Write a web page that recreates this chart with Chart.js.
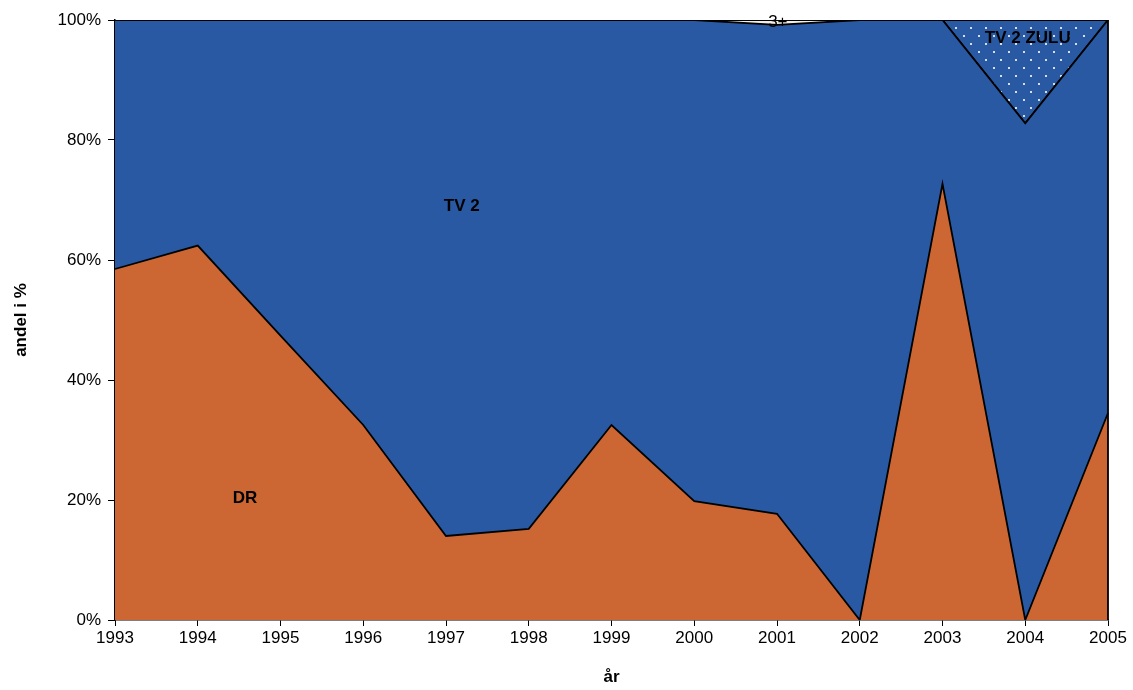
<!DOCTYPE html>
<html>
<head>
<meta charset="utf-8">
<script src="https://cdn.jsdelivr.net/npm/chart.js@4.4.1/dist/chart.umd.min.js"></script>
<style>
  body { margin: 0; background: #fff; }
  #wrap { width: 1133px; height: 690px; }
</style>
</head>
<body>
<div id="wrap"><canvas id="resultPlot" width="1133" height="690"></canvas></div>
<script>
// data (share in %)
var years = ['1993','1994','1995','1996','1997','1998','1999','2000','2001','2002','2003','2004','2005'];
var drShare   = [58.5, 62.4, 47.4, 32.5, 14.0, 15.2, 32.5, 19.8, 17.7, 0, 72.7, 0, 34.5];
var plusShare = [0, 0, 0, 0, 0, 0, 0, 0, 0.8, 0, 0, 0, 0];
var zuluShare = [0, 0, 0, 0, 0, 0, 0, 0, 0, 0, 0, 17.2, 0];
var tv2Share  = [];
for (let i = 0; i < years.length; i++) {
    tv2Share.push(100 - drShare[i] - plusShare[i] - zuluShare[i]);
}
var yTicks = [0, 20, 40, 60, 80, 100];

// series labels inside the plot
var seriesLabels = ['DR', 'TV 2', '3+', 'TV 2 ZULU'];
var labelYearPos = [1.57, 4.19, 8.01, 11.03];
var labelValuePos = [20.3, 69, 99.6, 97.0];

/**
 * dotted fill for TV 2 ZULU
 */
function makeDots(){
    let c = document.createElement('canvas');
    c.width = 15; c.height = 16;
    let ctx = c.getContext('2d');
    ctx.fillStyle = '#2959a2';
    ctx.fillRect(0, 0, 15, 16);
    ctx.fillStyle = '#d5deee';
    ctx.fillRect(3, 3, 2, 2);
    ctx.fillRect(10, 11, 2, 2);
    return ctx.createPattern(c, 'repeat');
}

var labelPlugin = {
    id: 'seriesLabels',
    afterDatasetsDraw: function(chart){
        let ctx = chart.ctx;
        let xs = chart.scales.x, ys = chart.scales.y;
        let step = xs.getPixelForValue(1) - xs.getPixelForValue(0);
        ctx.save();
        // outline on the right edge of the stack
        let xr = xs.getPixelForValue(years.length - 1);
        ctx.strokeStyle = '#000';
        ctx.lineWidth = 1.8;
        ctx.beginPath();
        ctx.moveTo(xr, ys.getPixelForValue(0));
        ctx.lineTo(xr, ys.getPixelForValue(100));
        ctx.stroke();

        ctx.fillStyle = '#000';
        ctx.textAlign = 'center';
        ctx.textBaseline = 'middle';
        for (let i = 0; i < seriesLabels.length; i++) {
            let x = xs.getPixelForValue(0) + step * labelYearPos[i];
            let y = ys.getPixelForValue(labelValuePos[i]);
            if (seriesLabels[i] === '3+') { ctx.font = '17px "Liberation Sans", Arial, sans-serif'; }
            else { ctx.font = 'bold 17px "Liberation Sans", Arial, sans-serif'; }
            ctx.fillText(seriesLabels[i], x, y);
        }
        ctx.restore();
    }
};

function draw(){
    let plotArea = document.getElementById('resultPlot');
    let names = ['DR', 'TV 2', '3+', 'TV 2 ZULU'];
    let values = [drShare, tv2Share, plusShare, zuluShare];
    let fills = ['#cc6633', '#2959a2', '#f2efe6', makeDots()];
    let datasets = [];
    for (let i = 0; i < names.length; i++) {
        datasets.push({
            label: names[i],
            data: values[i],
            backgroundColor: fills[i],
            borderColor: '#000',
            borderWidth: 1.8,
            pointRadius: 0,
            tension: 0,
            fill: i === 0 ? 'origin' : '-1'
        });
    }
    let tickFont = {family: '"Liberation Sans", Arial, sans-serif', size: 17};
    let titleFont = {family: '"Liberation Sans", Arial, sans-serif', size: 17, weight: 'bold'};
    new Chart(plotArea, {
        type: 'line',
        data: {labels: years, datasets: datasets},
        plugins: [labelPlugin],
        options: {
            responsive: false,
            animation: false,
            layout: {padding: {left: 0, right: 25, top: 20, bottom: 0}},
            plugins: {legend: {display: false}, tooltip: {enabled: false}},
            scales: {
                x: {
                    offset: false,
                    grid: {drawOnChartArea: false, drawTicks: true, tickLength: 6, color: '#000'},
                    border: {display: true, color: '#000', width: 1.5},
                    ticks: {color: '#000', font: tickFont, maxRotation: 0, padding: 2},
                    title: {display: true, text: 'år', color: '#000', font: titleFont, padding: {top: 4, bottom: 2}},
                    afterFit: function(s){ s.height = 70; }
                },
                y: {
                    stacked: true,
                    min: 0, max: 100,
                    afterBuildTicks: function(s){ s.ticks = yTicks.map(function(v){ return {value: v}; }); },
                    grid: {drawOnChartArea: false, drawTicks: true, tickLength: 7, color: '#000'},
                    border: {display: true, color: '#000', width: 1.5},
                    ticks: {color: '#000', font: tickFont, padding: 7, callback: function(v){ return v + '%'; }},
                    title: {display: true, text: 'andel i %', color: '#000', font: titleFont, padding: {top: 11, bottom: 0}},
                    afterFit: function(s){ s.width = 115; }
                }
            }
        }
    });
}

draw();
</script>
</body>
</html>
